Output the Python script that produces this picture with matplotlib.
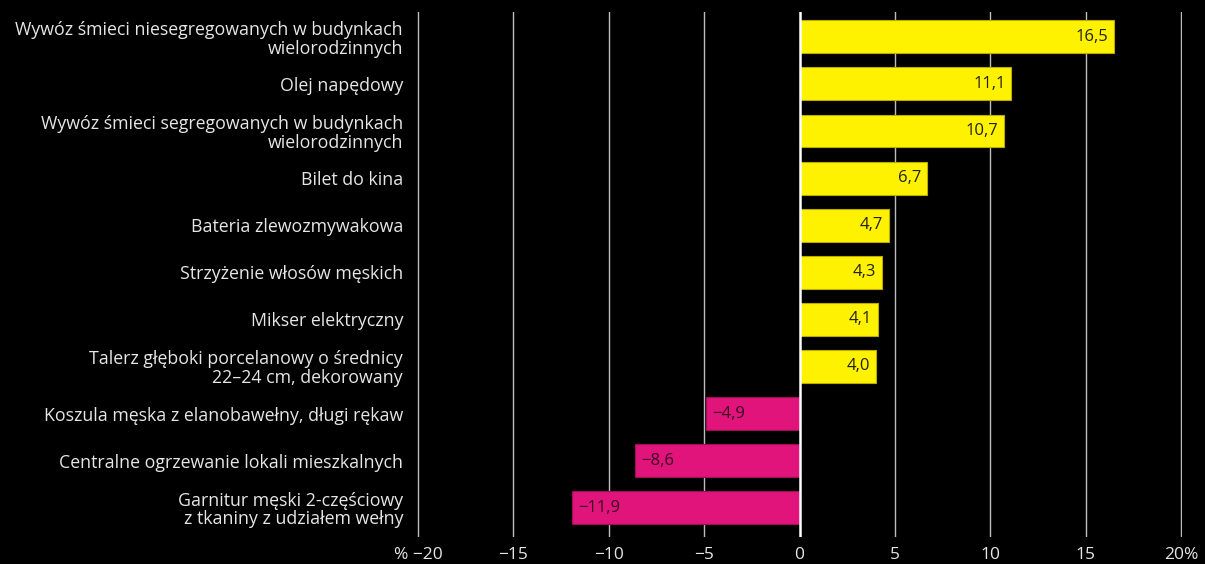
import matplotlib
matplotlib.use("Agg")
import matplotlib.pyplot as plt

categories = [
    "Wywóz śmieci niesegregowanych w budynkach\nwielorodzinnych",
    "Olej napędowy",
    "Wywóz śmieci segregowanych w budynkach\nwielorodzinnych",
    "Bilet do kina",
    "Bateria zlewozmywakowa",
    "Strzyżenie włosów męskich",
    "Mikser elektryczny",
    "Talerz głęboki porcelanowy o średnicy\n22–24 cm, dekorowany",
    "Koszula męska z elanobawełny, długi rękaw",
    "Centralne ogrzewanie lokali mieszkalnych",
    "Garnitur męski 2-częściowy\nz tkaniny z udziałem wełny",
]
values = [16.5, 11.1, 10.7, 6.7, 4.7, 4.3, 4.1, 4.0, -4.9, -8.6, -11.9]
value_labels = ["16,5", "11,1", "10,7", "6,7", "4,7", "4,3", "4,1", "4,0", "\u22124,9", "\u22128,6", "\u221211,9"]
xticks = [-20, -15, -10, -5, 0, 5, 10, 15, 20]
xtick_labels = ["% \u221220", "\u221215", "\u221210", "\u22125", "0", "5", "10", "15", "20%"]

plt.rcParams['font.family'] = ['Open Sans', 'DejaVu Sans']

fig = plt.figure(figsize=(12.05, 5.64), dpi=100, facecolor="black")
ax = fig.add_axes([0.346, 0.048, 0.635, 0.931], facecolor="black")

ypos = list(range(len(categories)))
colors = ["#fff200" if v >= 0 else "#e0147a" for v in values]
edges = ["#b8ad00" if v >= 0 else "#9c0e55" for v in values]
ax.barh(ypos, values, height=0.7, color=colors, edgecolor=edges, linewidth=0.8, zorder=2)

for x in xticks:
    if x == 0:
        ax.axvline(x, color="white", linewidth=1.8, zorder=3)
    else:
        ax.axvline(x, color="#bdbdbd", linewidth=1.0, zorder=1)

for y, v, lab in zip(ypos, values, value_labels):
    if v >= 0:
        ax.text(v - 0.3, y, lab, ha="right", va="center", fontsize=12, color="#222210", zorder=4)
    else:
        ax.text(v + 0.3, y, lab, ha="left", va="center", fontsize=12, color="#3a0a22", zorder=4)

ax.set_xlim(-20.05, 20.05)
ax.set_ylim(10.62, -0.53)
ax.set_yticks(ypos)
ax.set_yticklabels(categories, fontsize=12.8, color="#e6e6e6", linespacing=1.05)
ax.set_xticks(xticks)
ax.set_xticklabels(xtick_labels, fontsize=12.5, color="#e6e6e6")
ax.tick_params(axis="both", length=0)
ax.tick_params(axis="y", pad=10)
ax.tick_params(axis="x", pad=7)
for s in ax.spines.values():
    s.set_visible(False)

fig.savefig("out.png", dpi=100, facecolor="black")
